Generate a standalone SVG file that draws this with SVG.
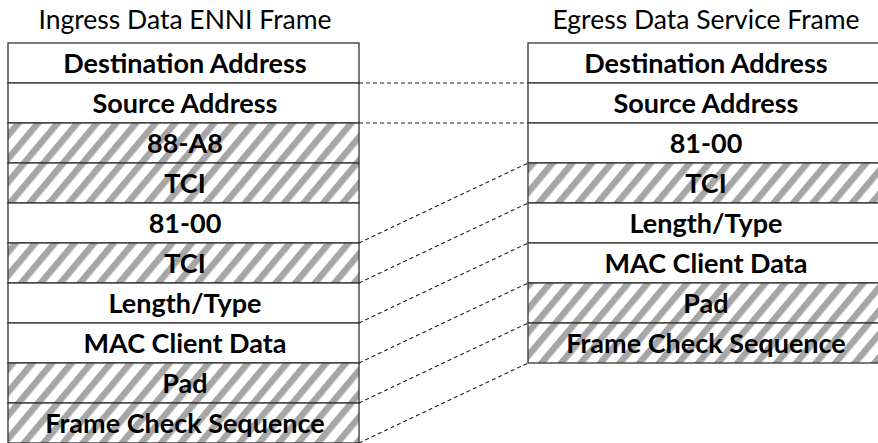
<svg xmlns="http://www.w3.org/2000/svg" width="878" height="443" viewBox="0 0 878 443">
<defs>
<pattern id="hatch" patternUnits="userSpaceOnUse" width="15" height="15" patternTransform="rotate(40)">
<rect x="0" y="0" width="15" height="15" fill="#ffffff"/>
<rect x="0" y="0" width="6.5" height="15" fill="#a6a6a6"/>
</pattern>
<style>
.cell{stroke:#333333;stroke-width:1.3;fill:#ffffff}
.hcell{stroke:#333333;stroke-width:1.3;fill:url(#hatch)}
.lbl{font-family:Lato,"Open Sans","Liberation Sans",sans-serif;font-weight:bold;font-size:27px;fill:#000000;text-anchor:middle}
.title{font-family:Lato,"Open Sans","Liberation Sans",sans-serif;font-size:26.5px;fill:#000000;text-anchor:middle}
.conn{stroke:#202020;stroke-width:1.1;stroke-dasharray:4 3;fill:none}
</style>
</defs>
<rect width="878" height="443" fill="#ffffff"/>
<text class="title" x="185" y="29">Ingress Data ENNI Frame</text>
<text class="title" x="706" y="29">Egress Data Service Frame</text>
<g id="ingress">
<g id="in-da"><rect class="cell" x="8" y="43" width="351" height="40"/><text class="lbl" x="185" y="73">Destination Address</text></g>
<g id="in-sa"><rect class="cell" x="8" y="83" width="351" height="40"/><text class="lbl" x="185" y="113">Source Address</text></g>
<g id="in-88a8"><rect class="hcell" x="8" y="123" width="351" height="40"/><text class="lbl" x="185" y="153">88-A8</text></g>
<g id="in-tci1"><rect class="hcell" x="8" y="163" width="351" height="40"/><text class="lbl" x="185" y="193">TCI</text></g>
<g id="in-8100"><rect class="cell" x="8" y="203" width="351" height="40"/><text class="lbl" x="185" y="233">81-00</text></g>
<g id="in-tci2"><rect class="hcell" x="8" y="243" width="351" height="40"/><text class="lbl" x="185" y="273">TCI</text></g>
<g id="in-lt"><rect class="cell" x="8" y="283" width="351" height="40"/><text class="lbl" x="185" y="313">Length/Type</text></g>
<g id="in-mac"><rect class="cell" x="8" y="323" width="351" height="40"/><text class="lbl" x="185" y="353">MAC Client Data</text></g>
<g id="in-pad"><rect class="hcell" x="8" y="363" width="351" height="40"/><text class="lbl" x="185" y="393">Pad</text></g>
<g id="in-fcs"><rect class="hcell" x="8" y="403" width="351" height="40"/><text class="lbl" x="185" y="433">Frame Check Sequence</text></g>
</g>
<g id="egress">
<g id="eg-da"><rect class="cell" x="528" y="43" width="351" height="40"/><text class="lbl" x="706" y="73">Destination Address</text></g>
<g id="eg-sa"><rect class="cell" x="528" y="83" width="351" height="40"/><text class="lbl" x="706" y="113">Source Address</text></g>
<g id="eg-8100"><rect class="cell" x="528" y="123" width="351" height="40"/><text class="lbl" x="706" y="153">81-00</text></g>
<g id="eg-tci"><rect class="hcell" x="528" y="163" width="351" height="40"/><text class="lbl" x="706" y="193">TCI</text></g>
<g id="eg-lt"><rect class="cell" x="528" y="203" width="351" height="40"/><text class="lbl" x="706" y="233">Length/Type</text></g>
<g id="eg-mac"><rect class="cell" x="528" y="243" width="351" height="40"/><text class="lbl" x="706" y="273">MAC Client Data</text></g>
<g id="eg-pad"><rect class="hcell" x="528" y="283" width="351" height="40"/><text class="lbl" x="706" y="313">Pad</text></g>
<g id="eg-fcs"><rect class="hcell" x="528" y="323" width="351" height="40"/><text class="lbl" x="706" y="353">Frame Check Sequence</text></g>
</g>
<g id="connectors">
<line class="conn" x1="359" y1="83" x2="528" y2="83"/>
<line class="conn" x1="359" y1="123" x2="528" y2="123"/>
<line class="conn" x1="359" y1="243" x2="528" y2="163"/>
<line class="conn" x1="359" y1="283" x2="528" y2="203"/>
<line class="conn" x1="359" y1="323" x2="528" y2="243"/>
<line class="conn" x1="359" y1="363" x2="528" y2="283"/>
<line class="conn" x1="359" y1="403" x2="528" y2="323"/>
<line class="conn" x1="359" y1="443" x2="528" y2="363"/>
</g>
</svg>
